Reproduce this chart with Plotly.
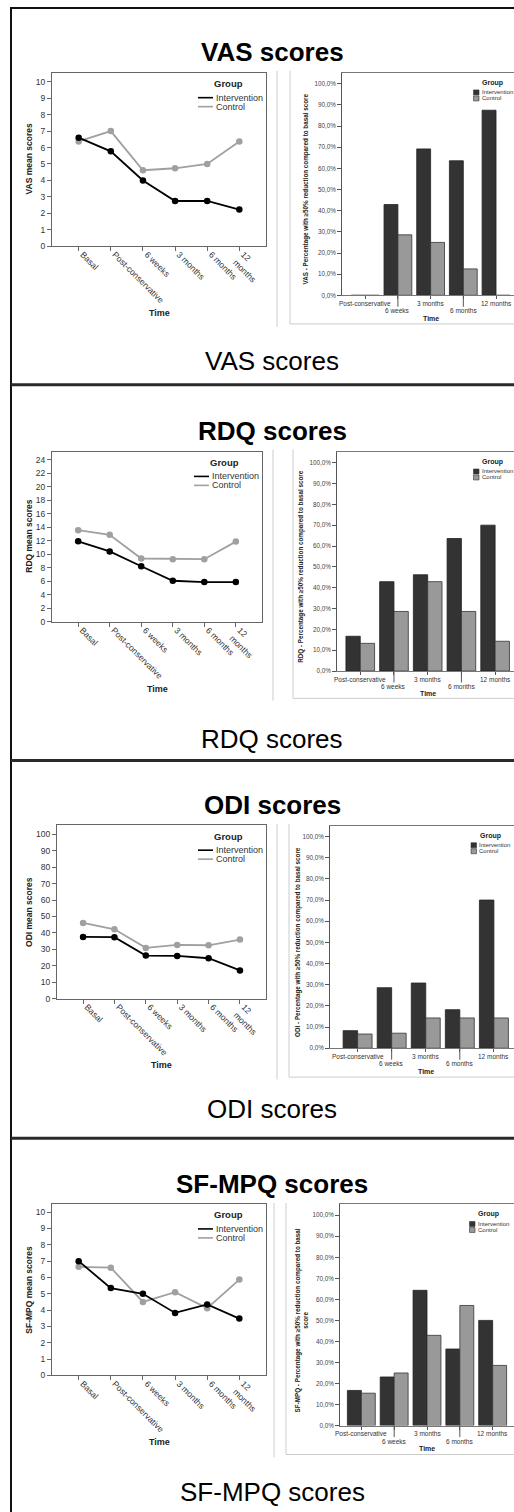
import plotly.graph_objects as go

W, H = 514, 1512

# ---------------- data ----------------
scale_names = ["VAS", "RDQ", "ODI", "SF-MPQ"]
groups = ["Intervention", "Control"]

time_points = ["Basal", "Post-conservative", "6 weeks", "3 months", "6 months", "12 months"]
time_tick_text = ["Basal", "Post-conservative", "6 weeks", "3 months", "6 months", "12<br>months"]
bar_time_points = ["Post-conservative", "6 weeks", "3 months", "6 months", "12 months"]

vas_mean_intervention = [6.6, 5.77, 4.0, 2.75, 2.75, 2.23]
vas_mean_control = [6.37, 7.0, 4.62, 4.74, 5.0, 6.37]
rdq_mean_intervention = [11.95, 10.45, 8.25, 6.1, 5.9, 5.9]
rdq_mean_control = [13.6, 12.9, 9.4, 9.3, 9.3, 11.9]
odi_mean_intervention = [37.6, 37.4, 26.2, 26.0, 24.6, 17.2]
odi_mean_control = [46.1, 42.2, 30.9, 32.7, 32.5, 36.0]
sfmpq_mean_intervention = [7.0, 5.35, 5.0, 3.83, 4.35, 3.48]
sfmpq_mean_control = [6.65, 6.6, 4.5, 5.1, 4.12, 5.87]

vas_pct_intervention = [0.0, 42.9, 69.2, 63.6, 87.5]
vas_pct_control = [0.0, 28.6, 25.0, 12.5, 0.0]
rdq_pct_intervention = [16.7, 42.9, 46.2, 63.6, 70.0]
rdq_pct_control = [13.3, 28.6, 42.9, 28.6, 14.3]
odi_pct_intervention = [8.3, 28.6, 30.8, 18.2, 70.0]
odi_pct_control = [6.7, 7.1, 14.3, 14.3, 14.3]
sfmpq_pct_intervention = [16.7, 23.1, 64.3, 36.4, 50.0]
sfmpq_pct_control = [15.4, 25.0, 42.9, 57.1, 28.6]

mean_ticks = [
    [0, 1, 2, 3, 4, 5, 6, 7, 8, 9, 10],
    [0, 2, 4, 6, 8, 10, 12, 14, 16, 18, 20, 22, 24],
    [0, 10, 20, 30, 40, 50, 60, 70, 80, 90, 100],
    [0, 1, 2, 3, 4, 5, 6, 7, 8, 9, 10],
]
pct_ticks = [0, 10, 20, 30, 40, 50, 60, 70, 80, 90, 100]
pct_tick_text = ["0,0%", "10,0%", "20,0%", "30,0%", "40,0%", "50,0%",
                 "60,0%", "70,0%", "80,0%", "90,0%", "100,0%"]

panel_titles = ["VAS scores", "RDQ scores", "ODI scores", "SF-MPQ scores"]
mean_axis_titles = ["VAS mean scores", "RDQ mean scores", "ODI mean scores", "SF-MPQ mean scores"]
pct_axis_titles = [
    "VAS - Percentage with ≥50% reduction compared to basal score",
    "RDQ - Percentage with ≥50% reduction compared to basal score",
    "ODI - Percentage with ≥50% reduction compared to basal score",
    "SF-MPQ - Percentage with ≥50% reduction compared to basal<br>score",
]

mean_series = [
    (vas_mean_intervention, vas_mean_control),
    (rdq_mean_intervention, rdq_mean_control),
    (odi_mean_intervention, odi_mean_control),
    (sfmpq_mean_intervention, sfmpq_mean_control),
]
pct_series = [
    (vas_pct_intervention, vas_pct_control),
    (rdq_pct_intervention, rdq_pct_control),
    (odi_pct_intervention, odi_pct_control),
    (sfmpq_pct_intervention, sfmpq_pct_control),
]

# ---------------- layout geometry (pixels) ----------------
LEFT_RECTS = [(52, 73, 266, 247), (52, 453, 262, 624), (57, 828, 266, 1002), (52, 1208, 266, 1380)]
LEFT_YMAX = [10.55, 25.25, 105.5, 10.5]
RIGHT_RECTS = [(342, 73, 296.3), (337, 453.3, 673.3), (330, 828.3, 1051.7), (340, 1208.3, 1430.3)]
RIGHT_XRANGE = [(-0.71, 4.55), (-0.69, 4.56), (-0.81, 4.59), (-0.65, 4.65)]
RIGHT_YMAX = 105.2
OUTER_FRAMES = [(290, 71, 325), (293, 451, 700.7), (289, 827, 1080.7), (286, 1207, 1459.3)]
SEPARATORS = [(277, 71, 328), (273, 451, 703), (277, 827, 1083), (274, 1207, 1462)]
TITLE_Y = [52, 432, 808, 1188]
CAPTION_Y = [362.5, 741.5, 1112.5, 1496.5]
PANEL_LINES_Y = [386, 763, 1142]
RIGHT_YTITLE_X = [306, 301, 298.5, 301]
SWATCH_X = [473.5, 473.5, 471, 469.5]

INT_LINE = "#000000"
CTL_LINE = "#a0a0a0"
INT_BAR = "#333333"
CTL_BAR = "#999999"
FONT = "Arial, Liberation Sans, sans-serif"


def fx(p):
    return p / W


def fy(p):
    return 1 - p / H


def suffix(n):
    return "" if n == 1 else str(n)


fig = go.Figure()
layout = dict(
    width=W, height=H, margin=dict(l=0, r=0, t=0, b=0),
    paper_bgcolor="white", plot_bgcolor="white",
    showlegend=False, barmode="group", bargap=0.15, bargroupgap=0,
    font=dict(family=FONT, color="#222"),
)
annotations = []
shapes = []

# outer frame lines
shapes.append(dict(type="line", xref="paper", yref="paper", x0=fx(11), x1=fx(530), y0=fy(8), y1=fy(8),
                   line=dict(color="#111", width=2)))
shapes.append(dict(type="line", xref="paper", yref="paper", x0=fx(11), x1=fx(11), y0=fy(7), y1=fy(1520),
                   line=dict(color="#111", width=2)))
for py in PANEL_LINES_Y:
    shapes.append(dict(type="line", xref="paper", yref="paper", x0=fx(11), x1=fx(530), y0=fy(py), y1=fy(py),
                       line=dict(color="#2a2a2a", width=3)))

for i in range(4):
    nl = 2 * i + 1
    nr = 2 * i + 2
    # ---------- left: line chart ----------
    lx0, ly0, lx1, ly1 = LEFT_RECTS[i]
    layout["xaxis" + suffix(nl)] = dict(
        domain=[fx(lx0), fx(lx1)], anchor="y" + suffix(nl), type="category",
        range=[-0.83, 5.83], tickmode="array", tickvals=time_points, ticktext=time_tick_text,
        tickangle=45, ticks="outside", ticklen=4, tickcolor="#666",
        ticklabelstandoff=-5, ticklabelshift=4,
        showline=True, mirror=True, linecolor="#666", linewidth=1,
        showgrid=False, zeroline=False, tickfont=dict(size=8.6, color="#333", family=FONT),
    )
    layout["yaxis" + suffix(nl)] = dict(
        domain=[fy(ly1), fy(ly0)], anchor="x" + suffix(nl),
        range=[0, LEFT_YMAX[i]], tickmode="array", tickvals=mean_ticks[i],
        ticks="outside", ticklen=4, tickcolor="#666",
        showline=True, mirror=True, linecolor="#666", linewidth=1,
        showgrid=False, zeroline=False, tickfont=dict(size=8.5, color="#333", family=FONT),
    )
    yi, yc = mean_series[i]
    fig.add_trace(go.Scatter(x=time_points, y=yc, mode="lines+markers", name=groups[1],
                             line=dict(color=CTL_LINE, width=1.8), marker=dict(color=CTL_LINE, size=6.5),
                             xaxis="x" + suffix(nl), yaxis="y" + suffix(nl)))
    fig.add_trace(go.Scatter(x=time_points, y=yi, mode="lines+markers", name=groups[0],
                             line=dict(color=INT_LINE, width=1.8), marker=dict(color=INT_LINE, size=6.5),
                             xaxis="x" + suffix(nl), yaxis="y" + suffix(nl)))
    # left legend
    annotations.append(dict(text="<b>Group</b>", x=fx(lx1 - 38), y=fy(ly0 + 11), xref="paper", yref="paper",
                            showarrow=False, font=dict(size=9.5, color="#222"), xanchor="center", yanchor="middle"))
    for k, (col, lab) in enumerate([(INT_LINE, groups[0]), (CTL_LINE, groups[1])]):
        yy = ly0 + 25 + 9 * k
        shapes.append(dict(type="line", xref="paper", yref="paper", x0=fx(lx1 - 68), x1=fx(lx1 - 53),
                           y0=fy(yy), y1=fy(yy), line=dict(color=col, width=1.6)))
        annotations.append(dict(text=lab, x=fx(lx1 - 52.5), y=fy(yy), xref="paper", yref="paper",
                                showarrow=False, font=dict(size=9, color="#333"), xanchor="left", yanchor="middle"))
    # left axis titles
    annotations.append(dict(text="<b>Time</b>", x=fx((lx0 + lx1) / 2), y=fy(ly1 + 67), xref="paper", yref="paper",
                            showarrow=False, font=dict(size=9, color="#222"), xanchor="center", yanchor="middle"))
    annotations.append(dict(text="<b>" + mean_axis_titles[i] + "</b>", x=fx(29), y=fy((ly0 + ly1) / 2),
                            xref="paper", yref="paper", showarrow=False, textangle=-90,
                            font=dict(size=8.5, color="#222"), xanchor="center", yanchor="middle"))

    # separator
    sx, sy0, sy1 = SEPARATORS[i]
    shapes.append(dict(type="line", xref="paper", yref="paper", x0=fx(sx), x1=fx(sx), y0=fy(sy0), y1=fy(sy1),
                       line=dict(color="#cccccc", width=1)))

    # ---------- right: bar chart ----------
    rx0, rtop, rbot = RIGHT_RECTS[i]
    ox, oy0, oy1 = OUTER_FRAMES[i]
    shapes.append(dict(type="line", xref="paper", yref="paper", x0=fx(ox), x1=fx(ox), y0=fy(oy0), y1=fy(oy1),
                       line=dict(color="#cccccc", width=1)))
    shapes.append(dict(type="line", xref="paper", yref="paper", x0=fx(ox), x1=fx(530), y0=fy(oy1), y1=fy(oy1),
                       line=dict(color="#cccccc", width=1)))
    layout["xaxis" + suffix(nr)] = dict(
        domain=[fx(rx0), 1.0], anchor="y" + suffix(nr), type="category",
        range=list(RIGHT_XRANGE[i]), tickmode="array", tickvals=bar_time_points,
        showticklabels=False, ticks="outside", ticklen=3, tickcolor="#555",
        showline=True, mirror=True, linecolor="#777", linewidth=1,
        showgrid=False, zeroline=False,
    )
    layout["yaxis" + suffix(nr)] = dict(
        domain=[fy(rbot), fy(rtop)], anchor="x" + suffix(nr),
        range=[0, RIGHT_YMAX], tickmode="array", tickvals=pct_ticks, ticktext=pct_tick_text,
        ticks="outside", ticklen=4, tickcolor="#555",
        showline=True, mirror=False, linecolor="#555", linewidth=1,
        showgrid=False, zeroline=False, tickfont=dict(size=6.3, color="#444", family=FONT),
    )
    pi, pc = pct_series[i]
    fig.add_trace(go.Bar(x=bar_time_points, y=pi, name=groups[0], marker=dict(color=INT_BAR,
                         line=dict(color="#222", width=0.8)), xaxis="x" + suffix(nr), yaxis="y" + suffix(nr)))
    fig.add_trace(go.Bar(x=bar_time_points, y=pc, name=groups[1], marker=dict(color=CTL_BAR,
                         line=dict(color="#333", width=0.8)), xaxis="x" + suffix(nr), yaxis="y" + suffix(nr)))
    # staggered category labels
    for j, cat in enumerate(bar_time_points):
        row2 = (j % 2 == 1)
        annotations.append(dict(text=cat, x=cat, xref="x" + suffix(nr), y=fy(rbot + (15.5 if row2 else 8)),
                                yref="paper", showarrow=False, font=dict(size=6.5, color="#333"),
                                xanchor="center", yanchor="middle"))
        if row2:
            shapes.append(dict(type="line", xref="x" + suffix(nr), yref="paper", x0=cat, x1=cat,
                               y0=fy(rbot), y1=fy(rbot + 11.5), line=dict(color="#555", width=1)))
    annotations.append(dict(text="<b>Time</b>", x=bar_time_points[2], xref="x" + suffix(nr),
                            y=fy(rbot + 23), yref="paper", showarrow=False,
                            font=dict(size=7, color="#222"), xanchor="center", yanchor="middle"))
    annotations.append(dict(text="<b>" + pct_axis_titles[i] + "</b>", x=fx(RIGHT_YTITLE_X[i]),
                            y=fy(rbot - (rbot - rtop) * 50 / RIGHT_YMAX), xref="paper", yref="paper",
                            showarrow=False, textangle=-90, font=dict(size=6.3, color="#222"),
                            xanchor="center", yanchor="middle"))
    # right legend
    sxl = SWATCH_X[i]
    annotations.append(dict(text="<b>Group</b>", x=fx(sxl + 19), y=fy(rtop + 10), xref="paper", yref="paper",
                            showarrow=False, font=dict(size=7, color="#222"), xanchor="center", yanchor="middle"))
    for k, (col, lab) in enumerate([(INT_BAR, groups[0]), (CTL_BAR, groups[1])]):
        yy = rtop + 19.75 + 6 * k
        shapes.append(dict(type="rect", xref="paper", yref="paper", x0=fx(sxl), x1=fx(sxl + 5.5),
                           y0=fy(yy - 2.5), y1=fy(yy + 2.5), fillcolor=col,
                           line=dict(color="#333", width=0.6)))
        annotations.append(dict(text=lab, x=fx(sxl + 6.2), y=fy(yy), xref="paper", yref="paper",
                                showarrow=False, font=dict(size=6.0, color="#333"), xanchor="left",
                                yanchor="middle"))

    # panel titles
    annotations.append(dict(text="<b>" + panel_titles[i] + "</b>", x=fx(272), y=fy(TITLE_Y[i]),
                            xref="paper", yref="paper", showarrow=False,
                            font=dict(size=26, color="#000"), xanchor="center", yanchor="middle"))
    annotations.append(dict(text=panel_titles[i], x=fx(272), y=fy(CAPTION_Y[i]),
                            xref="paper", yref="paper", showarrow=False,
                            font=dict(size=26, color="#000"), xanchor="center", yanchor="middle"))

layout["annotations"] = annotations
layout["shapes"] = shapes
fig.update_layout(**layout)

fig.write_html("out.html", config={"displayModeBar": False},
               post_script="document.body.style.margin='0';")
